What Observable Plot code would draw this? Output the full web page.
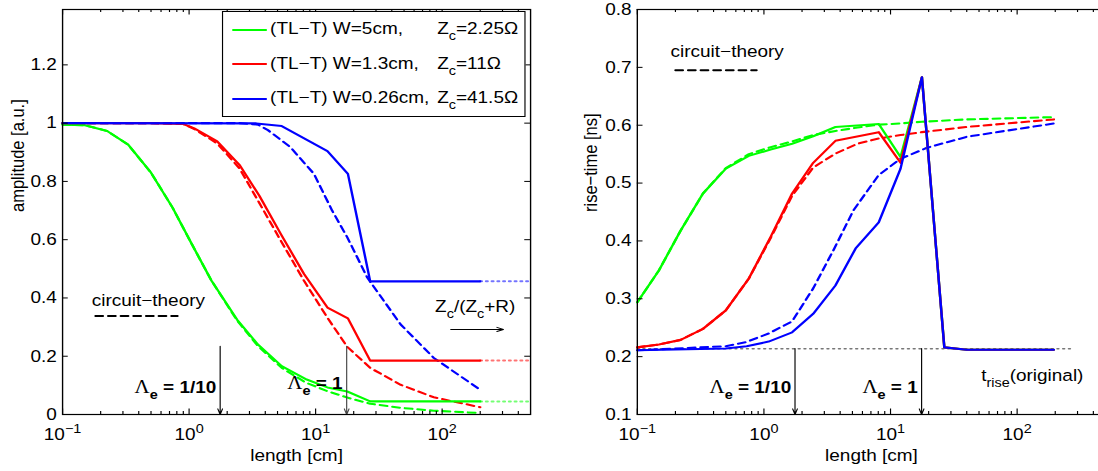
<!DOCTYPE html>
<html><head><meta charset="utf-8">
<script src="https://cdn.jsdelivr.net/npm/d3@7"></script>
<script src="https://cdn.jsdelivr.net/npm/@observablehq/plot@0.6"></script>
<style>
html,body{margin:0;padding:0;background:#fff;overflow:hidden;width:1098px;height:471px}
#wrap{position:absolute;left:0;top:0;width:974px;height:471px;transform:scaleX(1.15);transform-origin:0 0;font-family:'Liberation Sans',Arial,Helvetica,sans-serif}
.panel{position:absolute;top:0}
#legend{position:absolute;border:1px solid #000;background:#fff;box-sizing:border-box}
#legend .ln{position:absolute;height:2px}
#legend .tx{position:absolute;font-size:16.5px;line-height:20px;white-space:nowrap;color:#000}
#legend .sb{font-size:12.5px;position:relative;top:6px}
</style></head>
<body><div id="wrap"><div id="left" class="panel" style="left:0"></div><div id="right" class="panel"></div><div id="legend"></div></div>
<script>
// ---------------- data ----------------
const GREEN = "#00ff00", RED = "#ff0000", BLUE = "#0000ff";
const xDomain = [0.1, 500];
const majorX = [0.1, 1, 10, 100];
const minorX = [0.2,0.3,0.4,0.5,0.6,0.7,0.8,0.9, 2,3,4,5,6,7,8,9, 20,30,40,50,60,70,80,90, 200,300,400];
const ampTicks = [0, 0.2, 0.4, 0.6, 0.8, 1, 1.2];
const riseTicks = [0.1, 0.2, 0.3, 0.4, 0.5, 0.6, 0.7, 0.8];

// amplitude (left)
const ampGreenX  = [0.1, 0.15, 0.225, 0.33, 0.5, 0.74, 1.05, 1.5, 2.4, 3.5, 5.4, 8.3, 12.4, 17.8, 27, 200];
const ampGreenV  = [0.995, 0.993, 0.973, 0.926, 0.83, 0.71, 0.585, 0.46, 0.325, 0.24, 0.166, 0.122, 0.093, 0.079, 0.045, 0.045];
const ampGreenCtX = [0.1, 0.15, 0.225, 0.33, 0.5, 0.74, 1.05, 1.5, 2.4, 3.5, 5.4, 8.3, 12.4, 17.8, 27, 47, 86, 200];
const ampGreenCtV = [0.995, 0.993, 0.973, 0.926, 0.83, 0.71, 0.585, 0.46, 0.322, 0.235, 0.16, 0.11, 0.08, 0.058, 0.037, 0.023, 0.013, 0.005];
const ampRedX  = [0.1, 0.5, 0.9, 1.1, 1.67, 2.5, 3.6, 5.3, 8.1, 12.4, 18, 27, 200];
const ampRedV  = [1.0, 1.0, 0.997, 0.982, 0.937, 0.857, 0.75, 0.62, 0.482, 0.367, 0.33, 0.185, 0.185];
const ampRedCtX = [0.1, 0.5, 0.9, 1.1, 1.67, 2.5, 3.6, 5.3, 8.1, 12.4, 17.8, 27, 47, 86, 200];
const ampRedCtV = [1.0, 1.0, 0.997, 0.98, 0.93, 0.845, 0.725, 0.597, 0.459, 0.332, 0.232, 0.16, 0.102, 0.059, 0.025];
const ampBlueX  = [0.1, 3.4, 5.4, 12.4, 18, 27, 200];
const ampBlueV  = [1.0, 0.999, 0.99, 0.904, 0.826, 0.457, 0.457];
const ampBlueCtX = [0.1, 2.5, 3.5, 4.2, 6.3, 9.7, 13.5, 17.8, 25.6, 47, 86, 200];
const ampBlueCtV = [1.0, 1.0, 0.995, 0.976, 0.918, 0.826, 0.70, 0.608, 0.47, 0.309, 0.194, 0.085];
const extX = [200, 500];   // Zc/(Zc+R) dotted continuation

// rise-time (right)
const riseGreenX = [0.1, 0.148, 0.22, 0.33, 0.5, 0.76, 1.13, 1.67, 2.45, 3.67, 8.07, 12, 17.7, 26.6, 40, 195];
const riseGreenV = [0.294, 0.349, 0.418, 0.482, 0.525, 0.547, 0.558, 0.568, 0.581, 0.597, 0.602, 0.545, 0.683, 0.216, 0.212, 0.212];
const riseGreenCtX = [0.1, 0.148, 0.22, 0.33, 0.5, 0.76, 1.13, 1.67, 2.45, 3.67, 5.5, 8.07, 12, 17.7, 40, 195];
const riseGreenCtV = [0.294, 0.349, 0.418, 0.482, 0.526, 0.55, 0.562, 0.572, 0.583, 0.59, 0.596, 0.601, 0.603, 0.606, 0.61, 0.614];
const riseRedX = [0.1, 0.148, 0.22, 0.33, 0.5, 0.76, 1.13, 1.67, 2.45, 3.67, 8.07, 12, 17.7, 26.6, 40, 195];
const riseRedV = [0.216, 0.221, 0.229, 0.248, 0.28, 0.335, 0.407, 0.482, 0.535, 0.573, 0.588, 0.535, 0.683, 0.216, 0.212, 0.212];
const riseRedCtX = [0.1, 0.148, 0.22, 0.33, 0.5, 0.76, 1.13, 1.67, 2.45, 3.67, 5.5, 8.07, 12, 17.7, 40, 195];
const riseRedCtV = [0.216, 0.221, 0.229, 0.248, 0.28, 0.335, 0.405, 0.478, 0.527, 0.551, 0.568, 0.577, 0.583, 0.588, 0.597, 0.61];
const riseBlueX = [0.1, 0.5, 0.73, 1.09, 1.67, 2.45, 3.67, 5.3, 8.07, 12, 17.7, 26.6, 40, 195];
const riseBlueV = [0.211, 0.214, 0.218, 0.226, 0.242, 0.274, 0.323, 0.387, 0.432, 0.525, 0.683, 0.216, 0.212, 0.212];
const riseBlueCtX = [0.1, 0.5, 0.72, 1.09, 1.67, 2.45, 3.54, 5.1, 8.07, 12, 19.4, 40, 195];
const riseBlueCtV = [0.211, 0.218, 0.225, 0.24, 0.261, 0.318, 0.384, 0.453, 0.514, 0.542, 0.561, 0.58, 0.603];
const tRiseX = [0.1, 280];
const tRiseV = [0.2137, 0.2137];

// annotations
const lambdaX = [1.76, 17.6];
const ampArrowTop = 0.234, riseArrowTop = 0.2142;
const legendLabels = ["(TL\u2212T) W=5cm,", "(TL\u2212T) W=1.3cm,", "(TL\u2212T) W=0.26cm,"];
const legendZ = ["=2.25\u03A9", "=11\u03A9", "=41.5\u03A9"];
const legendColors = [GREEN, RED, BLUE];

// ---------------- layout ----------------
const S = 1.15;               // horizontal stretch of the original figure
const FONT = "'Liberation Sans', Arial, Helvetica, sans-serif";
const FS = 16.5;
const H = 471, MT = 9, MB = 57, PH = H - MT - MB;
const DASH = "6.5,4.5";

const pts = (xs, vs) => xs.map((x, i) => ({x, v: vs[i]}));
const expLabel = d => {
  const e = Math.round(Math.log10(d));
  return `10^{${e < 0 ? "\u2212" + Math.abs(e) : e}}`;
};

function frameTicks(pw, yTicks) {
  return [
    Plot.tickX(minorX, {x: d => d, insetTop: PH - 3, stroke: "#000", strokeWidth: 1}),
    Plot.tickX(minorX, {x: d => d, insetBottom: PH - 3, stroke: "#000", strokeWidth: 1}),
    Plot.tickX(majorX, {x: d => d, insetTop: PH - 5.5, stroke: "#000", strokeWidth: 1}),
    Plot.tickX(majorX, {x: d => d, insetBottom: PH - 5.5, stroke: "#000", strokeWidth: 1}),
    Plot.tickY(yTicks, {y: d => d, insetRight: pw - 5, stroke: "#000", strokeWidth: 1}),
    Plot.tickY(yTicks, {y: d => d, insetLeft: pw - 5, stroke: "#000", strokeWidth: 1}),
    Plot.frame({stroke: "#000", strokeWidth: 1.2}),
    Plot.axisX(majorX, {anchor: "bottom", tickSize: 0, tickPadding: 14, label: null, fontSize: FS, tickFormat: expLabel}),
    Plot.axisY(yTicks, {anchor: "left", tickSize: 0, tickPadding: 5, label: null, fontSize: FS,
      tickFormat: d => String(+d.toFixed(1))})
  ];
}

function rich(svg) {
  const NS = "http://www.w3.org/2000/svg";
  svg.querySelectorAll("text").forEach(t => {
    const s = t.textContent;
    if (!/[_^]\{|\u039B/.test(s)) return;
    while (t.firstChild) t.removeChild(t.firstChild);
    const re = /([_^])\{([^}]*)\}|([^_^]+)/g;
    let m, off = 0;
    while ((m = re.exec(s))) {
      if (m[1]) {
        const want = m[1] === "_" ? 6 : -7.5;
        const sp = document.createElementNS(NS, "tspan");
        sp.setAttribute("dy", want - off); off = want;
        sp.setAttribute("font-size", "76%");
        sp.textContent = m[2];
        t.appendChild(sp);
      } else {
        m[3].split(/(\u039B)/).filter(p => p).forEach(p => {
          const sp = document.createElementNS(NS, "tspan");
          if (off) { sp.setAttribute("dy", -off); off = 0; }
          if (p === "\u039B") {
            sp.setAttribute("font-family", "'Liberation Serif','Times New Roman',serif");
            sp.setAttribute("font-weight", "normal");
            sp.setAttribute("font-size", "110%");
          }
          sp.textContent = p;
          t.appendChild(sp);
        });
      }
    }
  });
}

// ---------------- left panel ----------------
const LW = 487, LML = 62 / S, LMR = LW - 530 / S, LPW = LW - LML - LMR;
const lineOpt = (c, dashed) => ({x: "x", y: "v", stroke: c, strokeWidth: 2.1, strokeDasharray: dashed ? DASH : null});
const extOpt = c => ({x: "x", y: "v", stroke: c, strokeWidth: 2, strokeOpacity: 0.55, strokeDasharray: "1.5,3.5"});

const left = Plot.plot({
  width: LW, height: H, marginLeft: LML, marginRight: LMR, marginTop: MT, marginBottom: MB,
  style: {fontFamily: FONT, fontSize: FS + "px", background: "transparent", overflow: "visible", color: "#000"},
  x: {type: "log", domain: xDomain, axis: null},
  y: {domain: [0, 1.39], axis: null},
  marks: [
    Plot.line(pts(ampGreenCtX, ampGreenCtV), lineOpt(GREEN, true)),
    Plot.line(pts(ampRedCtX, ampRedCtV), lineOpt(RED, true)),
    Plot.line(pts(ampBlueCtX, ampBlueCtV), lineOpt(BLUE, true)),
    Plot.line(pts(ampGreenX, ampGreenV), lineOpt(GREEN, false)),
    Plot.line(pts(ampRedX, ampRedV), lineOpt(RED, false)),
    Plot.line(pts(ampBlueX, ampBlueV), lineOpt(BLUE, false)),
    Plot.line(pts(extX, extX.map(() => ampGreenV[ampGreenV.length - 1])), extOpt(GREEN)),
    Plot.line(pts(extX, extX.map(() => ampRedV[ampRedV.length - 1])), extOpt(RED)),
    Plot.line(pts(extX, extX.map(() => ampBlueV[ampBlueV.length - 1])), extOpt(BLUE)),
    // circuit-theory key
    Plot.text([{x: 0.17, v: 0.39, t: "circuit\u2212theory"}], {x: "x", y: "v", text: "t", textAnchor: "start", fontSize: FS}),
    Plot.line(pts([0.182, 0.81], [0.338, 0.338]), {x: "x", y: "v", stroke: "#000", strokeWidth: 2, strokeDasharray: DASH}),
    // Zc/(Zc+R)
    Plot.text([{x: 88, v: 0.37, t: "Z_{c}/(Z_{c}+R)"}], {x: "x", y: "v", text: "t", textAnchor: "start", fontSize: FS}),
    Plot.arrow([{x1: 117, x2: 305, v: 0.292}], {x1: "x1", x2: "x2", y1: "v", y2: "v", stroke: "#000", strokeWidth: 1, headLength: 9, headAngle: 40}),
    // Lambda_e markers
    Plot.text([{x: 0.371, v: 0.093, t: "\u039B_{e} = 1/10"}, {x: 5.97, v: 0.105, t: "\u039B_{e} = 1"}],
      {x: "x", y: "v", text: "t", textAnchor: "start", fontSize: FS, fontWeight: "bold"}),
    Plot.arrow(lambdaX.map((x, i) => ({x, i})), {x1: "x", x2: "x", y1: () => ampArrowTop, y2: () => 0,
      stroke: d => d.i ? "#444" : "#000", strokeWidth: 1, headLength: 9, headAngle: 40}),
    ...frameTicks(LPW, ampTicks),
    Plot.text(["length [cm]"], {frameAnchor: "bottom", dy: 46, text: d => d, fontSize: FS}),
    Plot.text(["amplitude [a.u.]"], {frameAnchor: "left", dx: -39, rotate: -90, text: d => d, fontSize: FS})
  ]
});
rich(left);
document.getElementById("left").appendChild(left);

// ---------------- right panel ----------------
const RX0 = 560 / S;
const RW = 487, RML = (636.7 - 560) / S, RMR = RW - (1105 - 560) / S, RPW = RW - RML - RMR;
document.getElementById("right").style.left = RX0 + "px";

const right = Plot.plot({
  width: RW, height: H, marginLeft: RML, marginRight: RMR, marginTop: MT, marginBottom: MB,
  style: {fontFamily: FONT, fontSize: FS + "px", background: "transparent", overflow: "visible", color: "#000"},
  x: {type: "log", domain: xDomain, axis: null},
  y: {domain: [0.1, 0.8], axis: null},
  marks: [
    Plot.line(pts(tRiseX, tRiseV), {x: "x", y: "v", stroke: "#777", strokeWidth: 1.5, strokeDasharray: "1.5,3.5"}),
    Plot.line(pts(riseGreenCtX, riseGreenCtV), lineOpt(GREEN, true)),
    Plot.line(pts(riseRedCtX, riseRedCtV), lineOpt(RED, true)),
    Plot.line(pts(riseBlueCtX, riseBlueCtV), lineOpt(BLUE, true)),
    Plot.line(pts(riseGreenX, riseGreenV), lineOpt(GREEN, false)),
    Plot.line(pts(riseRedX, riseRedV), lineOpt(RED, false)),
    Plot.line(pts(riseBlueX, riseBlueV), lineOpt(BLUE, false)),
    Plot.text([{x: 0.183, v: 0.727, t: "circuit\u2212theory"}], {x: "x", y: "v", text: "t", textAnchor: "start", fontSize: FS}),
    Plot.line(pts([0.2, 0.875], [0.695, 0.695]), {x: "x", y: "v", stroke: "#000", strokeWidth: 2, strokeDasharray: DASH}),
    Plot.text([{x: 52, v: 0.1675, t: "t_{rise}(original)"}], {x: "x", y: "v", text: "t", textAnchor: "start", fontSize: FS}),
    Plot.text([{x: 0.372, v: 0.147, t: "\u039B_{e} = 1/10"}, {x: 6.0, v: 0.147, t: "\u039B_{e} = 1"}],
      {x: "x", y: "v", text: "t", textAnchor: "start", fontSize: FS, fontWeight: "bold"}),
    Plot.arrow(lambdaX.map(x => ({x})), {x1: "x", x2: "x", y1: () => riseArrowTop, y2: () => 0.1,
      stroke: "#000", strokeWidth: 1, headLength: 9, headAngle: 40}),
    ...frameTicks(RPW, riseTicks),
    Plot.text(["length [cm]"], {frameAnchor: "bottom", dy: 46, text: d => d, fontSize: FS}),
    Plot.text(["rise\u2212time [ns]"], {frameAnchor: "left", dx: -40.6, rotate: -90, text: d => d, fontSize: FS})
  ]
});
rich(right);
document.getElementById("right").appendChild(right);

// ---------------- legend (left panel) ----------------
const leg = document.getElementById("legend");
leg.style.left = (222 / S) + "px"; leg.style.top = "11px";
leg.style.width = (304 / S) + "px"; leg.style.height = "106px";
const rowY = [17.5, 52.3, 86.5];
legendLabels.forEach((lab, i) => {
  const ln = document.createElement("div");
  ln.className = "ln"; ln.style.background = legendColors[i];
  ln.style.left = (9 / S) + "px"; ln.style.width = (35 / S) + "px"; ln.style.top = (rowY[i] - 1) + "px";
  leg.appendChild(ln);
  const t1 = document.createElement("div");
  t1.className = "tx"; t1.style.left = (47 / S) + "px"; t1.style.top = (rowY[i] - 11.5) + "px";
  t1.textContent = lab;
  leg.appendChild(t1);
  const t2 = document.createElement("div");
  t2.className = "tx"; t2.style.left = (214 / S) + "px"; t2.style.top = (rowY[i] - 11.5) + "px";
  t2.innerHTML = 'Z<span class="sb">c</span>' + legendZ[i];
  leg.appendChild(t2);
});
</script>
</body></html>
